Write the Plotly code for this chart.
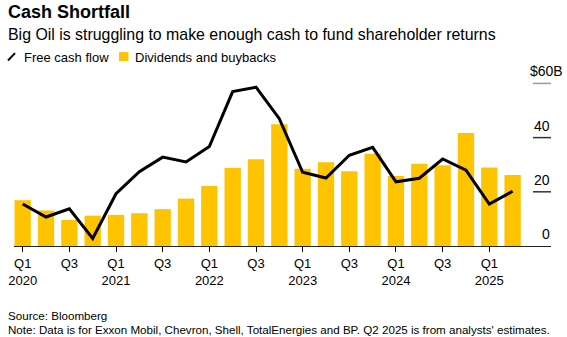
import plotly.graph_objects as go

quarters = ["Q1 2020","Q2 2020","Q3 2020","Q4 2020",
            "Q1 2021","Q2 2021","Q3 2021","Q4 2021",
            "Q1 2022","Q2 2022","Q3 2022","Q4 2022",
            "Q1 2023","Q2 2023","Q3 2023","Q4 2023",
            "Q1 2024","Q2 2024","Q3 2024","Q4 2024",
            "Q1 2025","Q2 2025"]
dividends_buybacks = [16.9, 13.1, 9.6, 11.2, 11.5, 12.1, 13.6, 17.5,
                      22.1, 28.8, 32.0, 44.9, 28.5, 30.9, 27.6, 34.0,
                      25.8, 30.4, 29.8, 41.7, 29.0, 26.2]
free_cash_flow = [15.5, 10.7, 13.7, 2.8, 19.3, 27.4, 32.8, 31.0,
                  36.7, 57.0, 58.6, 47.0, 27.2, 25.1, 33.5, 36.4,
                  23.7, 25.0, 32.1, 28.0, 15.5, 20.2]
tick_labels = ["Q1<br>2020","Q3","Q1<br>2021","Q3","Q1<br>2022","Q3",
               "Q1<br>2023","Q3","Q1<br>2024","Q3","Q1<br>2025"]
y_ticks = [0, 20, 40, 60]
y_tick_text = ["0", "20", "40", "$60B"]

FONT = "Liberation Sans, Arial, sans-serif"
W, H = 567, 337
L, R, T, B = 14, 16, 77.5, 91
PW, PH = W - L - R, H - T - B

def px_x(p):
    return (p - L) / PW

def px_y(p):
    return (H - B - p) / PH

x = list(range(len(quarters)))
fig = go.Figure()
fig.add_trace(go.Bar(x=x, y=dividends_buybacks, width=0.7,
                     marker=dict(color="#FFC400", line=dict(width=0)),
                     name="Dividends and buybacks", showlegend=False))
fig.add_trace(go.Scatter(x=x, y=free_cash_flow, mode="lines",
                         line=dict(color="black", width=3),
                         name="Free cash flow", showlegend=False))

shapes = []
annotations = []
for v, t in zip(y_ticks, y_tick_text):
    if v != 0:
        shapes.append(dict(type="line", xref="paper", yref="y",
                           x0=px_x(533), x1=px_x(551), y0=v, y1=v,
                           line=dict(color="#9a9a9a" if v == 60 else "#333333", width=1.5)))
    if t.startswith("$"):
        annotations.append(dict(xref="paper", yref="y", x=px_x(528), y=v, yshift=12,
                                text=t, showarrow=False, xanchor="left", yanchor="middle",
                                font=dict(family=FONT, size=14, color="black")))
    else:
        annotations.append(dict(xref="paper", yref="y", x=px_x(551.5), y=v, yshift=12,
                                text=t, showarrow=False, xanchor="right", yanchor="middle",
                                font=dict(family=FONT, size=14, color="black")))

# Title, subtitle
annotations.append(dict(xref="paper", yref="paper", x=px_x(6), y=px_y(11),
                        text="<b>Cash Shortfall</b>", showarrow=False, xanchor="left", yanchor="middle",
                        font=dict(family=FONT, size=18, color="black")))
annotations.append(dict(xref="paper", yref="paper", x=px_x(6), y=px_y(34),
                        text="Big Oil is struggling to make enough cash to fund shareholder returns",
                        showarrow=False, xanchor="left", yanchor="middle",
                        font=dict(family=FONT, size=15.9, color="black")))
# Legend
shapes.append(dict(type="line", xref="paper", yref="paper",
                   x0=px_x(8), y0=px_y(60), x1=px_x(15), y1=px_y(52.5),
                   line=dict(color="black", width=2)))
annotations.append(dict(xref="paper", yref="paper", x=px_x(22), y=px_y(56.5),
                        text="Free cash flow", showarrow=False, xanchor="left", yanchor="middle",
                        font=dict(family=FONT, size=13, color="black")))
shapes.append(dict(type="rect", xref="paper", yref="paper",
                   x0=px_x(119), y0=px_y(60.5), x1=px_x(128.5), y1=px_y(51.5),
                   fillcolor="#FFC400", line=dict(width=0)))
annotations.append(dict(xref="paper", yref="paper", x=px_x(132.5), y=px_y(56.5),
                        text="Dividends and buybacks", showarrow=False, xanchor="left", yanchor="middle",
                        font=dict(family=FONT, size=13, color="black")))
# Footer
annotations.append(dict(xref="paper", yref="paper", x=px_x(6), y=px_y(316),
                        text="Source: Bloomberg", showarrow=False, xanchor="left", yanchor="middle",
                        font=dict(family=FONT, size=11.6, color="black")))
annotations.append(dict(xref="paper", yref="paper", x=px_x(6), y=px_y(329.5),
                        text="Note: Data is for Exxon Mobil, Chevron, Shell, TotalEnergies and BP. Q2 2025 is from analysts' estimates.",
                        showarrow=False, xanchor="left", yanchor="middle",
                        font=dict(family=FONT, size=11.6, color="black")))

x0 = -8.7 / 23.33
x1 = (551 - 22.7) / 23.33
fig.update_layout(
    width=W, height=H, autosize=False,
    margin=dict(l=L, r=R, t=T, b=B, autoexpand=False),
    paper_bgcolor="white", plot_bgcolor="white",
    showlegend=False,
    shapes=shapes, annotations=annotations,
    xaxis=dict(range=[x0, x1], tickmode="array", tickvals=list(range(0, 22, 2)),
               ticktext=tick_labels, ticks="outside", ticklen=5, tickcolor="black", tickwidth=1,
               showline=True, linecolor="#222222", linewidth=1, showgrid=False, zeroline=False,
               tickfont=dict(family=FONT, size=13, color="black"), fixedrange=True),
    yaxis=dict(range=[0, 62], visible=False, showgrid=False, zeroline=False, fixedrange=True),
    bargap=0.3,
)
fig.write_html("out.html")
